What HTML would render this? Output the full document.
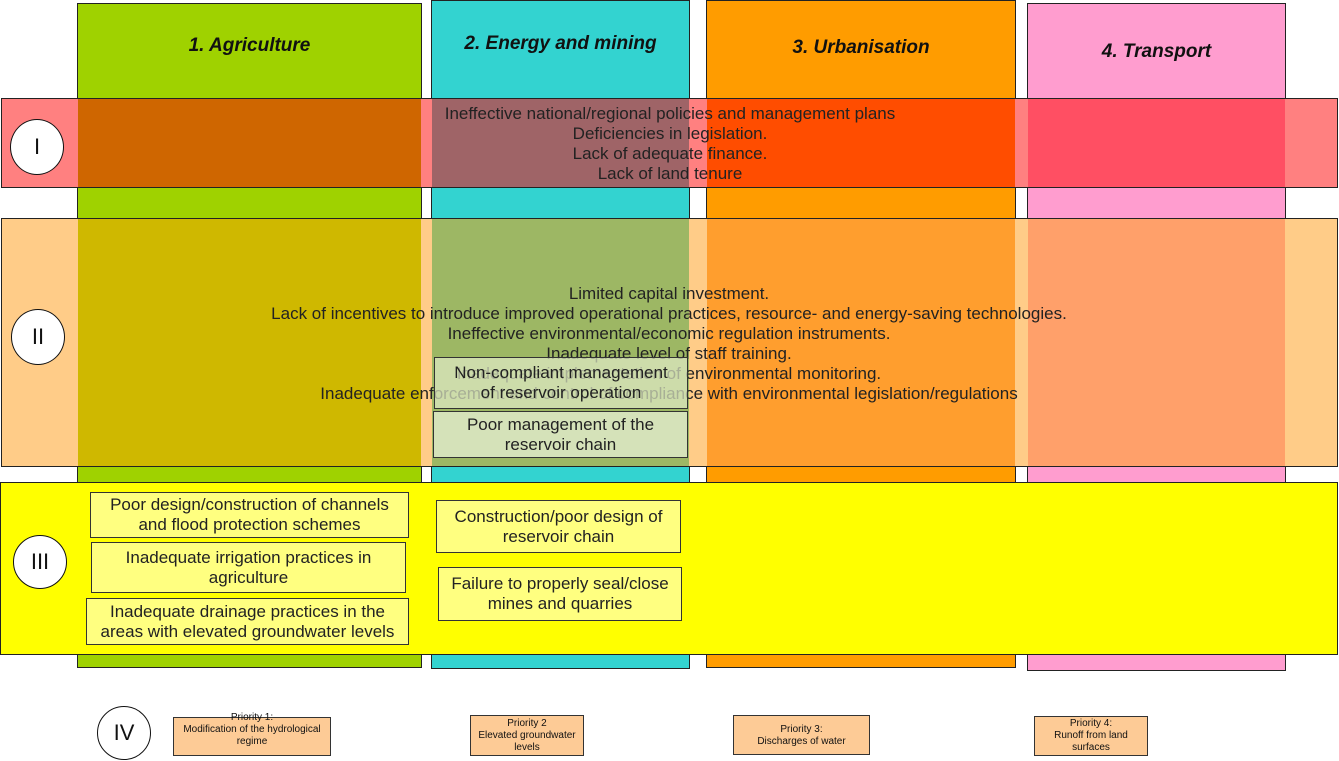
<!DOCTYPE html><html><head><style>
body{margin:0;width:1339px;height:761px;background:#fff;position:relative;overflow:hidden;font-family:"Liberation Sans",sans-serif}
div{position:absolute;box-sizing:border-box}
.b{border:1px solid #222}
.h{font-weight:bold;font-style:italic;font-size:19px;text-align:center;color:#111}
.c{background:#fff;border:1px solid #111;border-radius:50%;text-align:center;font-size:22px;color:#111}
.t{font-size:17px;color:#222;text-align:center;line-height:20px;white-space:nowrap}
.y{background:#ffff80;border:1px solid #333;font-size:17px;text-align:center;line-height:20px;color:#222;display:flex;align-items:center;justify-content:center;white-space:nowrap}
.p{background:#fdcb96;border:1px solid #333;font-size:10px;text-align:center;line-height:12px;color:#111;white-space:nowrap}
</style></head><body>
<div class="b" style="left:77px;top:3px;width:345px;height:665px;background:#9fd200"></div>
<div class="b" style="left:431px;top:0;width:259px;height:669px;background:#33d3d0"></div>
<div class="b" style="left:706px;top:0;width:310px;height:668px;background:#ff9c00"></div>
<div class="b" style="left:1027px;top:3px;width:259px;height:668px;background:#ff9dcf"></div>
<div class="h" style="left:77px;top:35px;width:345px">1. Agriculture</div>
<div class="h" style="left:431px;top:33px;width:259px">2. Energy and mining</div>
<div class="h" style="left:706px;top:37px;width:310px">3. Urbanisation</div>
<div class="h" style="left:1027px;top:41px;width:259px">4. Transport</div>

<div class="b" style="left:1px;top:98px;width:1337px;height:90px;background:#ff8080"></div>
<div style="left:78px;top:99px;width:343px;height:88px;background:#cf6600"></div>
<div style="left:432px;top:99px;width:257px;height:88px;background:#9f6467"></div>
<div style="left:707px;top:99px;width:308px;height:88px;background:#ff4d00"></div>
<div style="left:1028px;top:99px;width:257px;height:88px;background:#ff4f63"></div>
<div class="t" style="left:370px;top:104px;width:600px">Ineffective national/regional policies and management plans<br>Deficiencies in legislation.<br>Lack of adequate finance.<br>Lack of land tenure</div>
<div class="c" style="left:10px;top:119px;width:54px;height:56px;line-height:54px">I</div>

<div class="b" style="left:1px;top:218px;width:1337px;height:249px;background:#ffcc88"></div>
<div style="left:78px;top:219px;width:343px;height:247px;background:#cfb800"></div>
<div style="left:432px;top:219px;width:257px;height:247px;background:#9db764"></div>
<div style="left:707px;top:219px;width:308px;height:247px;background:#ff9e2e"></div>
<div style="left:1028px;top:219px;width:257px;height:247px;background:#ffa06a"></div>
<div class="t" style="left:169px;top:284px;width:1000px">Limited capital investment.<br>Lack of incentives to introduce improved operational practices, resource- and energy-saving technologies.<br>Ineffective environmental/economic regulation instruments.<br>Inadequate level of staff training.<br>Inadequate implementation of environmental monitoring.<br>Inadequate enforcement and control of compliance with environmental legislation/regulations</div>
<div class="y" style="left:434px;top:357px;width:254px;height:52px;background:rgba(225,235,200,.7)">Non-compliant management<br>of reservoir operation</div>
<div class="y" style="left:433px;top:411px;width:255px;height:47px;background:#d5e2b9">Poor management of the<br>reservoir chain</div>
<div class="c" style="left:11px;top:309px;width:54px;height:56px;line-height:54px">II</div>

<div class="b" style="left:0;top:482px;width:1338px;height:173px;background:#ffff00"></div>
<div class="c" style="left:13px;top:535px;width:54px;height:54px;line-height:52px">III</div>
<div class="y" style="left:90px;top:492px;width:319px;height:46px">Poor design/construction of channels<br>and flood protection schemes</div>
<div class="y" style="left:91px;top:542px;width:315px;height:51px">Inadequate irrigation practices in<br>agriculture</div>
<div class="y" style="left:86px;top:598px;width:323px;height:47px">Inadequate drainage practices in the<br>areas with elevated groundwater levels</div>
<div class="y" style="left:436px;top:500px;width:245px;height:53px">Construction/poor design of<br>reservoir chain</div>
<div class="y" style="left:438px;top:567px;width:244px;height:54px">Failure to properly seal/close<br>mines and quarries</div>

<div class="c" style="left:97px;top:706px;width:54px;height:54px;line-height:52px">IV</div>
<div class="p" style="left:173px;top:717px;width:158px;height:39px"></div>
<div class="t" style="left:173px;top:712px;width:158px;font-size:10px;line-height:12px;color:#111">Priority 1:<br>Modification of the hydrological<br>regime</div>
<div class="p" style="left:470px;top:715px;width:114px;height:41px;padding-top:2px">Priority 2<br>Elevated groundwater<br>levels</div>
<div class="p" style="left:733px;top:715px;width:137px;height:40px;padding-top:8px">Priority 3:<br>Discharges of water</div>
<div class="p" style="left:1034px;top:716px;width:114px;height:40px;padding-top:1px">Priority 4:<br>Runoff from land<br>surfaces</div>
</body></html>
